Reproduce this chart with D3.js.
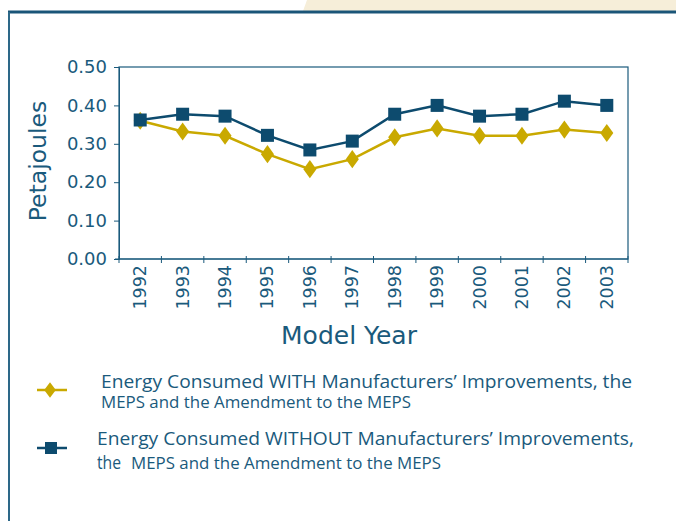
<!DOCTYPE html>
<html><head><meta charset="utf-8">
<script src="https://cdn.jsdelivr.net/npm/d3@7"></script>
<style>body{margin:0;background:#fff}svg{display:block}</style>
</head><body>
<script>
const years = ["1992","1993","1994","1995","1996","1997","1998","1999","2000","2001","2002","2003"];
const withImprovements = [0.36,0.332,0.321,0.273,0.234,0.260,0.317,0.340,0.321,0.321,0.337,0.328];
const withoutImprovements = [0.362,0.377,0.372,0.322,0.284,0.307,0.377,0.400,0.372,0.377,0.411,0.400];
const yTicks = [0,0.1,0.2,0.3,0.4,0.5];

const W=676,H=521;
const blue="#0d4b6e", gold="#c9a900", txt="#1a5a7c";
const af="DejaVu Sans, Verdana, sans-serif";
const svg=d3.select("body").append("svg").attr("width",W).attr("height",H);

// decorative frame
svg.append("path").attr("d","M307,0 L676,0 L676,11 L303,11 Z").attr("fill","#f6eed9");
svg.append("line").attr("x1",8).attr("x2",676).attr("y1",12).attr("y2",12).attr("stroke","#1a5578").attr("stroke-width",3);
svg.append("line").attr("x1",9).attr("x2",9).attr("y1",12).attr("y2",521).attr("stroke","#2d6888").attr("stroke-width",2);

const m={l:119,r:628,t:67,b:259};
const x=d3.scaleBand().domain(years).range([m.l,m.r]);
const y=d3.scaleLinear().domain([0,0.5]).range([m.b,m.t]);

// plot border
svg.append("rect").attr("x",m.l).attr("y",m.t).attr("width",m.r-m.l).attr("height",m.b-m.t)
  .attr("fill","none").attr("stroke",txt).attr("stroke-width",1.2);

// y axis
const ya=svg.append("g").attr("transform",`translate(${m.l},0)`)
  .call(d3.axisLeft(y).tickValues(yTicks).tickFormat(d3.format(".2f")).tickSize(5).tickPadding(7));
ya.select(".domain").attr("stroke",txt);
ya.selectAll(".tick line").attr("stroke",txt);
ya.selectAll(".tick text").attr("fill",txt).style("font-family",af).style("font-size","18px");

// x axis: ticks at category boundaries
const xa=svg.append("g").attr("transform",`translate(0,${m.b})`);
xa.append("line").attr("x1",m.l-4).attr("x2",m.r).attr("stroke",txt).attr("stroke-width",1.2);
const bounds=years.map(d=>x(d)).concat([m.r]);
xa.selectAll("line.t").data(bounds).enter().append("line").attr("class","t")
  .attr("x1",d=>d).attr("x2",d=>d).attr("y1",-3).attr("y2",4).attr("stroke",txt);
xa.selectAll("text").data(years).enter().append("text")
  .attr("transform",d=>`translate(${x(d)+x.bandwidth()/2+6},6) rotate(-90)`)
  .attr("text-anchor","end").attr("fill",txt)
  .style("font-family",af).style("font-size","17.5px").text(d=>d);

// axis titles
svg.append("text").attr("transform","translate(46,161) rotate(-90)").attr("text-anchor","middle")
  .attr("fill",txt).style("font-family",af).style("font-size","23.5px").text("Petajoules");
svg.append("text").attr("x",349).attr("y",344).attr("text-anchor","middle")
  .attr("fill",txt).style("font-family",af).style("font-size","25px").text("Model Year");

const cx=d=>x(d)+x.bandwidth()/2;
const line=d3.line().x((d,i)=>cx(years[i])).y(d=>y(d));

// WITH series (gold diamonds)
svg.append("path").datum(withImprovements).attr("d",line).attr("fill","none").attr("stroke",gold).attr("stroke-width",2.5);
const diamond=d3.symbol().type(d3.symbolDiamond).size(95);
svg.selectAll("path.dg").data(withImprovements).enter().append("path").attr("class","dg")
  .attr("d",diamond).attr("transform",(d,i)=>`translate(${cx(years[i])},${y(d)}) scale(1.25,1)`).attr("fill",gold);

// WITHOUT series (blue squares)
svg.append("path").datum(withoutImprovements).attr("d",line).attr("fill","none").attr("stroke",blue).attr("stroke-width",2.5);
svg.selectAll("rect.sq").data(withoutImprovements).enter().append("rect").attr("class","sq")
  .attr("x",(d,i)=>cx(years[i])-6.5).attr("y",d=>y(d)-6.5).attr("width",13).attr("height",13).attr("fill",blue);

// legend
const lf="Open Sans, Noto Sans, sans-serif";
const lg=svg.append("g");
lg.append("line").attr("x1",37).attr("x2",67).attr("y1",390).attr("y2",390).attr("stroke",gold).attr("stroke-width",2.5);
lg.append("path").attr("d",d3.symbol().type(d3.symbolDiamond).size(70)).attr("transform","translate(50,390) scale(1.3,1)").attr("fill",gold);
lg.append("text").attr("x",101).attr("y",388).attr("fill",txt).style("font-family",lf).style("font-size","18px")
  .attr("textLength",531).attr("lengthAdjust","spacingAndGlyphs")
  .text("Energy Consumed WITH Manufacturers\u2019 Improvements, the");
lg.append("text").attr("x",101).attr("y",408).attr("fill",txt).style("font-family",lf).style("font-size","15.5px")
  .attr("textLength",310).attr("lengthAdjust","spacingAndGlyphs")
  .text("MEPS and the Amendment to the MEPS");

lg.append("line").attr("x1",37).attr("x2",67).attr("y1",448).attr("y2",448).attr("stroke",blue).attr("stroke-width",2.5);
lg.append("rect").attr("x",45).attr("y",442).attr("width",12).attr("height",12).attr("fill",blue);
lg.append("text").attr("x",97).attr("y",445).attr("fill",txt).style("font-family",lf).style("font-size","18.5px")
  .attr("textLength",537).attr("lengthAdjust","spacingAndGlyphs")
  .text("Energy Consumed WITHOUT Manufacturers\u2019 Improvements,");
lg.append("text").attr("x",97).attr("y",469).attr("fill",txt).style("font-family",lf).style("font-size","18.5px")
  .attr("textLength",24).attr("lengthAdjust","spacingAndGlyphs").text("the");
lg.append("text").attr("x",131).attr("y",469).attr("fill",txt).style("font-family",lf).style("font-size","15.5px")
  .attr("textLength",310).attr("lengthAdjust","spacingAndGlyphs").text("MEPS and the Amendment to the MEPS");
</script>
</body></html>
